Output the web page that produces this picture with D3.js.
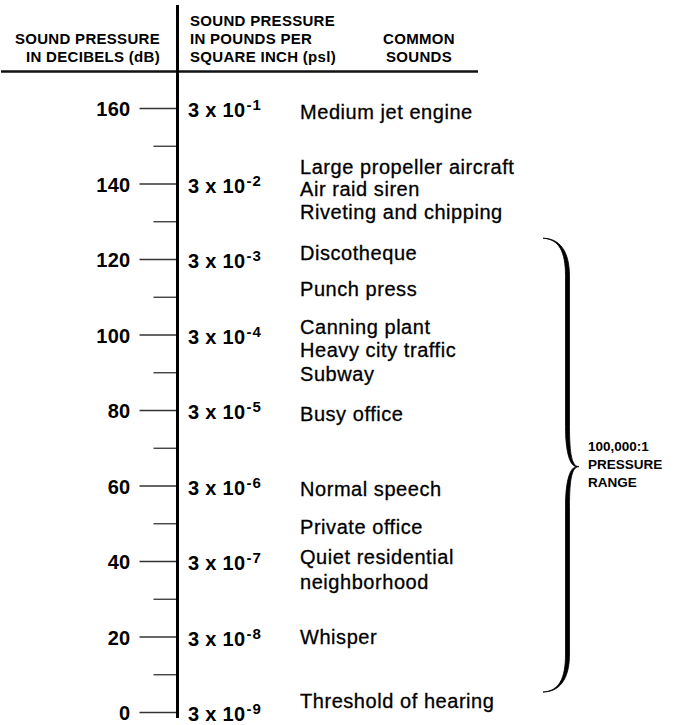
<!DOCTYPE html>
<html>
<head>
<meta charset="utf-8">
<script src="https://cdn.jsdelivr.net/npm/d3@7"></script>
<style>
  body { margin: 0; background: #fff; }
  text { font-family: "Liberation Sans", Arial, Helvetica, sans-serif; fill: #000; }
</style>
</head>
<body>
<div class="chart"></div>
<script>
// decibel ticks on the scale
var dbMajor = [0, 20, 40, 60, 80, 100, 120, 140, 160];
var dbMinor = [10, 30, 50, 70, 90, 110, 130, 150];

// pressure in psi at each major tick: 3 x 10^exp
var psiLevels = [160, 140, 120, 100, 80, 60, 40, 20, 0];
var psiExponents = [-1, -2, -3, -4, -5, -6, -7, -8, -9];

// common sounds and the level (dB) where each line sits
var soundLabels = ["Medium jet engine", "Large propeller aircraft", "Air raid siren",
    "Riveting and chipping", "Discotheque", "Punch press", "Canning plant",
    "Heavy city traffic", "Subway", "Busy office", "Normal speech", "Private office",
    "Quiet residential", "neighborhood", "Whisper", "Threshold of hearing"];
var soundLevels = [159, 144.5, 138.5, 132.5, 121.5, 112, 102, 96, 89.5, 79, 59, 49, 41, 34.5, 20, 3];

// brace: bottom, tip, top (dB)
var braceLevels = [5.3, 65, 125.5];
var braceLabel = ["100,000:1", "PRESSURE", "RANGE"];

var svgWidth = 691;
var svgHeight = 725;
var axisX = 177.5;

var svg = d3.select(".chart")
    .append("svg")
    .attr("width", svgWidth)
    .attr("height", svgHeight);

var yScale = d3.scaleLinear()
    .domain([0, 160])
    .range([712, 108]);

// header
var header = svg.append("g")
    .style("font-size", "15px")
    .style("font-weight", "bold")
    .style("letter-spacing", "0.3px");

header.append("text").attr("x", 160).attr("y", 44).attr("text-anchor", "end").text("SOUND PRESSURE");
header.append("text").attr("x", 160).attr("y", 62).attr("text-anchor", "end").text("IN DECIBELS (dB)");
header.append("text").attr("x", 190).attr("y", 26).text("SOUND PRESSURE");
header.append("text").attr("x", 190).attr("y", 44).text("IN POUNDS PER");
header.append("text").attr("x", 190).attr("y", 62).text("SQUARE INCH (psl)");
header.append("text").attr("x", 419).attr("y", 44).attr("text-anchor", "middle").text("COMMON");
header.append("text").attr("x", 419).attr("y", 62).attr("text-anchor", "middle").text("SOUNDS");

svg.append("line")
    .attr("x1", 1).attr("x2", 478)
    .attr("y1", 71.5).attr("y2", 71.5)
    .attr("stroke", "#111")
    .attr("stroke-width", 2.5);

// minor ticks
var minorAxis = d3.axisLeft(yScale)
    .tickValues(dbMinor)
    .tickSize(24)
    .tickFormat("");

svg.append("g")
    .attr("transform", `translate(${axisX}, 0)`)
    .call(minorAxis)
    .call(g => g.select(".domain").remove())
    .selectAll("line").attr("stroke", "#333").attr("stroke-width", 1.3);

// major ticks with dB labels
var majorAxis = d3.axisLeft(yScale)
    .tickValues(dbMajor)
    .tickSize(38)
    .tickPadding(9);

var majorG = svg.append("g")
    .attr("transform", `translate(${axisX}, 0)`)
    .call(majorAxis)
    .call(g => g.select(".domain").remove());

majorG.selectAll("line").attr("stroke", "#333").attr("stroke-width", 1.3);
majorG.selectAll("text")
    .attr("font-family", null)
    .attr("font-size", null)
    .style("font-size", "20px")
    .style("font-weight", "bold")
    .style("letter-spacing", "0.3px")
    .attr("fill", "#000")
    .attr("dy", "0.38em");

// main vertical line
svg.append("line")
    .attr("x1", axisX).attr("x2", axisX)
    .attr("y1", 5).attr("y2", 718)
    .attr("stroke", "#000")
    .attr("stroke-width", 3);

// psi labels
var psi = svg.append("g")
    .selectAll("text")
    .data(psiLevels)
    .enter()
    .append("text")
    .attr("x", 188)
    .attr("y", d => yScale(d) + 2)
    .attr("dy", "0.35em")
    .style("font-size", "20px")
    .style("font-weight", "bold")
    .style("letter-spacing", "0.3px");

psi.append("tspan").text("3 x 10");
psi.append("tspan")
    .attr("dy", "-7")
    .attr("dx", "1")
    .style("font-size", "15px")
    .style("letter-spacing", "1.2px")
    .text((d, i) => psiExponents[i]);

// common sounds
svg.append("g")
    .selectAll("text")
    .data(soundLabels)
    .enter()
    .append("text")
    .attr("x", 300)
    .attr("y", (d, i) => yScale(soundLevels[i]))
    .attr("dy", "0.35em")
    .style("font-size", "20px")
    .style("letter-spacing", "0.55px")
    .style("stroke", "#000")
    .style("stroke-width", "0.3px")
    .text(d => d);

// brace
var x0 = 543, xm = 567.5, xt = 579;
var yTop = yScale(braceLevels[2]);
var yMid = yScale(braceLevels[1]);
var yBot = yScale(braceLevels[0]);
var w = 2;

function half(xa, yA, yB, sign) {
    // from end (yA) to tip (yB); sign = direction
    return `C ${x0 + 16},${yA} ${xa},${yA + sign * 12} ${xa},${yA + sign * 38} ` +
        `L ${xa},${yB - sign * 40} C ${xa},${yB - sign * 12} ${xt - 7},${yB} ${xt},${yB}`;
}

var xo = xm + w, xi = xm - w;
var bracePath =
    `M ${x0},${yTop} ` + half(xo, yTop, yMid, 1) +
    ` C ${xt - 7},${yMid} ${xo},${yMid + 12} ${xo},${yMid + 40} L ${xo},${yBot - 38} C ${xo},${yBot - 12} ${x0 + 16},${yBot} ${x0},${yBot}` +
    ` C ${x0 + 16},${yBot - 1} ${xi},${yBot - 13} ${xi},${yBot - 38} L ${xi},${yMid + 40} C ${xi},${yMid + 14} ${xt - 9},${yMid} ${xt - 2},${yMid}` +
    ` C ${xt - 9},${yMid} ${xi},${yMid - 14} ${xi},${yMid - 40} L ${xi},${yTop + 38} C ${xi},${yTop + 13} ${x0 + 16},${yTop + 1} ${x0},${yTop} Z`;

svg.append("path")
    .attr("d", bracePath)
    .attr("fill", "#000")
    .attr("stroke", "#000")
    .attr("stroke-width", 0.8)
    .attr("stroke-linejoin", "round");

svg.append("g")
    .selectAll("text")
    .data(braceLabel)
    .enter()
    .append("text")
    .attr("x", 588)
    .attr("y", (d, i) => yMid - 16 + i * 18)
    .style("font-size", "13.5px")
    .style("font-weight", "bold")
    .text(d => d);
</script>
</body>
</html>
